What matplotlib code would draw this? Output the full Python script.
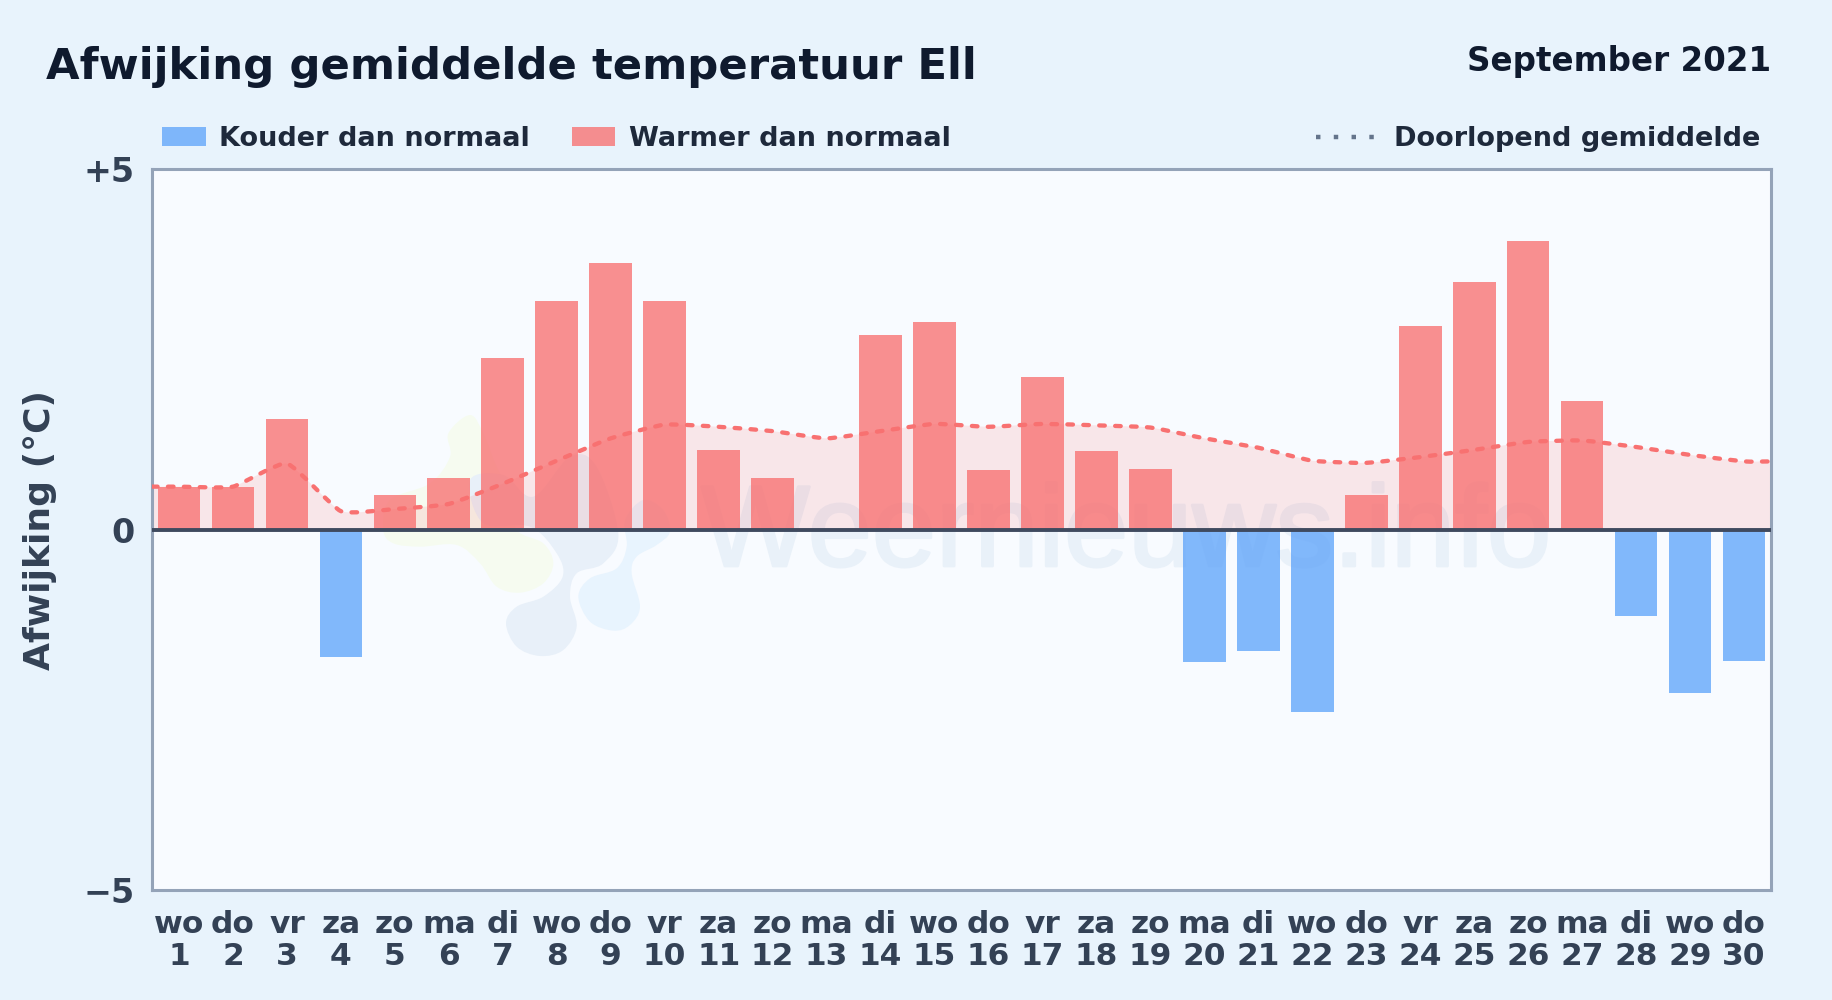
import matplotlib
matplotlib.use('agg')
from matplotlib import pyplot as plt
from matplotlib.path import Path
from matplotlib.transforms import Affine2D
import matplotlib.patches as mpatches
import matplotlib.patheffects as pe
from matplotlib.lines import Line2D
import numpy as np

weekdays = ['wo','do','vr','za','zo','ma','di','wo','do','vr','za','zo','ma','di','wo',
            'do','vr','za','zo','ma','di','wo','do','vr','za','zo','ma','di','wo','do']
days = list(range(1, 31))
# afwijking per dag
afwijking = [0.60, 0.60, 1.54, -1.76, 0.48, 0.72, 2.39, 3.17, 3.70, 3.18,
             1.11, 0.72, 0.00, 2.70, 2.89, 0.83, 2.12, 1.09, 0.85, -1.83,
             -1.68, -2.52, 0.49, 2.83, 3.44, 4.01, 1.79, -1.19, -2.26, -1.82]
# doorlopend gemiddelde
gemiddelde = [0.60, 0.60, 0.92, 0.26, 0.29, 0.36, 0.64, 0.96, 1.27, 1.46,
              1.43, 1.37, 1.27, 1.37, 1.47, 1.43, 1.47, 1.45, 1.42, 1.27,
              1.14, 0.96, 0.93, 1.01, 1.11, 1.22, 1.24, 1.15, 1.04, 0.95]

W, H = 1832, 1000
BLAUW = '#60a5fa'
ROOD = '#f87171'
LIJN = '#f87171'
DONKER = '#0f1a2e'
TEKST = '#1e293b'
AS = '#334155'

# logo outlines in the 3x crop coordinates, only decoration
LOGO_GROEN = [(300,45),(235,100),(240,170),(180,250),(60,300),(40,390),(70,430),(150,440),(260,435),
              (330,490),(380,560),(450,578),(520,550),(550,490),(520,430),(440,390),(430,300),(380,200),(340,100)]
LOGO_DONKER = [(300,240),(400,225),(490,290),(600,170),(680,200),(745,400),(700,490),(620,520),(600,590),
               (620,680),(580,750),(510,768),(440,740),(408,670),(440,620),(520,590),(578,530),(560,460),(480,380),(340,370)]
LOGO_LICHT = [(625,590),(660,535),(740,505),(770,440),(765,360),(820,300),(880,330),(900,395),(860,435),
              (800,470),(785,520),(810,620),(780,675),(730,692),(660,665)]


def smooth(px, py, t, closed=False):
    # catmull-rom style bezier through the given points
    n = len(px)
    verts = [(px[0], py[0])]
    codes = [Path.MOVETO]
    for i in range(n if closed else n-1):
        if closed:
            a, b, c, d = (i-1) % n, i, (i+1) % n, (i+2) % n
        else:
            a, b, c, d = max(i-1, 0), i, i+1, min(i+2, n-1)
        verts += [(px[b]+(px[c]-px[a])*t, py[b]+(py[c]-py[a])*t),
                  (px[c]-(px[d]-px[b])*t, py[c]-(py[d]-py[b])*t),
                  (px[c], py[c])]
        codes += [Path.CURVE4]*3
    return verts, codes


plt.rcParams['font.family'] = 'DejaVu Sans'
plt.rcParams['font.weight'] = 'bold'

fig = plt.figure(figsize=(W/100, H/100), dpi=100, facecolor='#e8f3fc')
ax = fig.add_axes([152/W, 1-890.4/H, (1771-152)/W, (890.4-169.4)/H], facecolor='#f8fbff')

# watermark
crop = Affine2D().scale(1/3, 1/3).translate(370, 400).scale(1/W, -1/H).translate(0, 1) + fig.transFigure
for pts, col in ((LOGO_GROEN, '#f6fbf0'), (LOGO_DONKER, '#e8f0f9'), (LOGO_LICHT, '#e8f4fe')):
    v, c = smooth([p[0] for p in pts], [p[1] for p in pts], 0.17, closed=True)
    ax.add_patch(mpatches.PathPatch(Path(v, c), facecolor=col, linewidth=0, transform=crop, zorder=1))
ax.text(701/W, 1-566/H, 'Weernieuws.info', transform=fig.transFigure, fontsize=83,
        family='Liberation Sans', weight='normal', color='#e9f1f9', ha='left', va='baseline', zorder=1,
        path_effects=[pe.withStroke(linewidth=2, foreground='#e9f1f9')])

x = np.array(days)
y = np.array(afwijking)

# smooth curve from the readings, with the ends running to the frame
px = np.concatenate([[0.5], x, [30.5]])
py = np.concatenate([[gemiddelde[0]], gemiddelde, [gemiddelde[-1]]])
verts, codes = smooth(px, py, 0.08)
ax.add_patch(mpatches.PathPatch(Path(verts+[(30.5, 0), (0.5, 0), (0.5, py[0])],
                                     codes+[Path.LINETO, Path.LINETO, Path.CLOSEPOLY]),
                                facecolor=LIJN, alpha=0.15, linewidth=0, zorder=2))
ax.bar(x, y, width=0.79, color=[ROOD if v >= 0 else BLAUW for v in afwijking], alpha=0.78, linewidth=0, zorder=3)
ax.add_patch(mpatches.PathPatch(Path(verts, codes), facecolor='none', edgecolor=LIJN, linewidth=3.1,
                                linestyle=(0, (1.3, 2.4)), capstyle='round', zorder=4))

ax.axhline(0, color='#3f4a5f', linewidth=2.8, zorder=5)
ax.set_xlim(0.5, 30.5)
ax.set_ylim(-5, 5)
ax.set_yticks([-5, 0, 5], ['\u22125', '0', '+5'])
ax.set_xticks(x, [f'{d}\n{n}' for d, n in zip(weekdays, days)])
ax.tick_params(axis='both', length=0, labelcolor=AS)
ax.tick_params(axis='x', pad=14, labelsize=22.5)
ax.tick_params(axis='y', pad=12.5, labelsize=24)
for lab in ax.get_xticklabels():
    lab.set_linespacing(1.12)
for s in ax.spines.values():
    s.set_color('#94a3b8')
    s.set_linewidth(2.2)

fig.text(46/W, 1-67/H, 'Afwijking gemiddelde temperatuur Ell', fontsize=31.25, color=DONKER, ha='left', va='center')
fig.text(1771/W, 1-61/H, 'September 2021', fontsize=23.45, color=DONKER, ha='right', va='center')
fig.text(40/W, 1-530/H, 'Afwijking (°C)', fontsize=26, color=AS, rotation=90, ha='center', va='center')

fig.legend(handles=[mpatches.Patch(color=BLAUW, alpha=0.78, linewidth=0, label='Kouder dan normaal'),
                    mpatches.Patch(color=ROOD, alpha=0.78, linewidth=0, label='Warmer dan normaal')],
           loc='center left', bbox_to_anchor=(138/W, 1-139/H), ncol=2, frameon=False, fontsize=19.5,
           labelcolor=TEKST, handlelength=1.6, handleheight=0.7, columnspacing=1.55, handletextpad=0.5)
fig.legend(handles=[Line2D([0], [0], color='#64748b', linewidth=3.2, linestyle=(0, (1, 3)), label='Doorlopend gemiddelde')],
           loc='center right', bbox_to_anchor=(1785/W, 1-139/H), frameon=False, fontsize=19.5,
           labelcolor=TEKST, handlelength=2.2, handletextpad=0.7)

fig.savefig('out.png', dpi=100, facecolor=fig.get_facecolor())
